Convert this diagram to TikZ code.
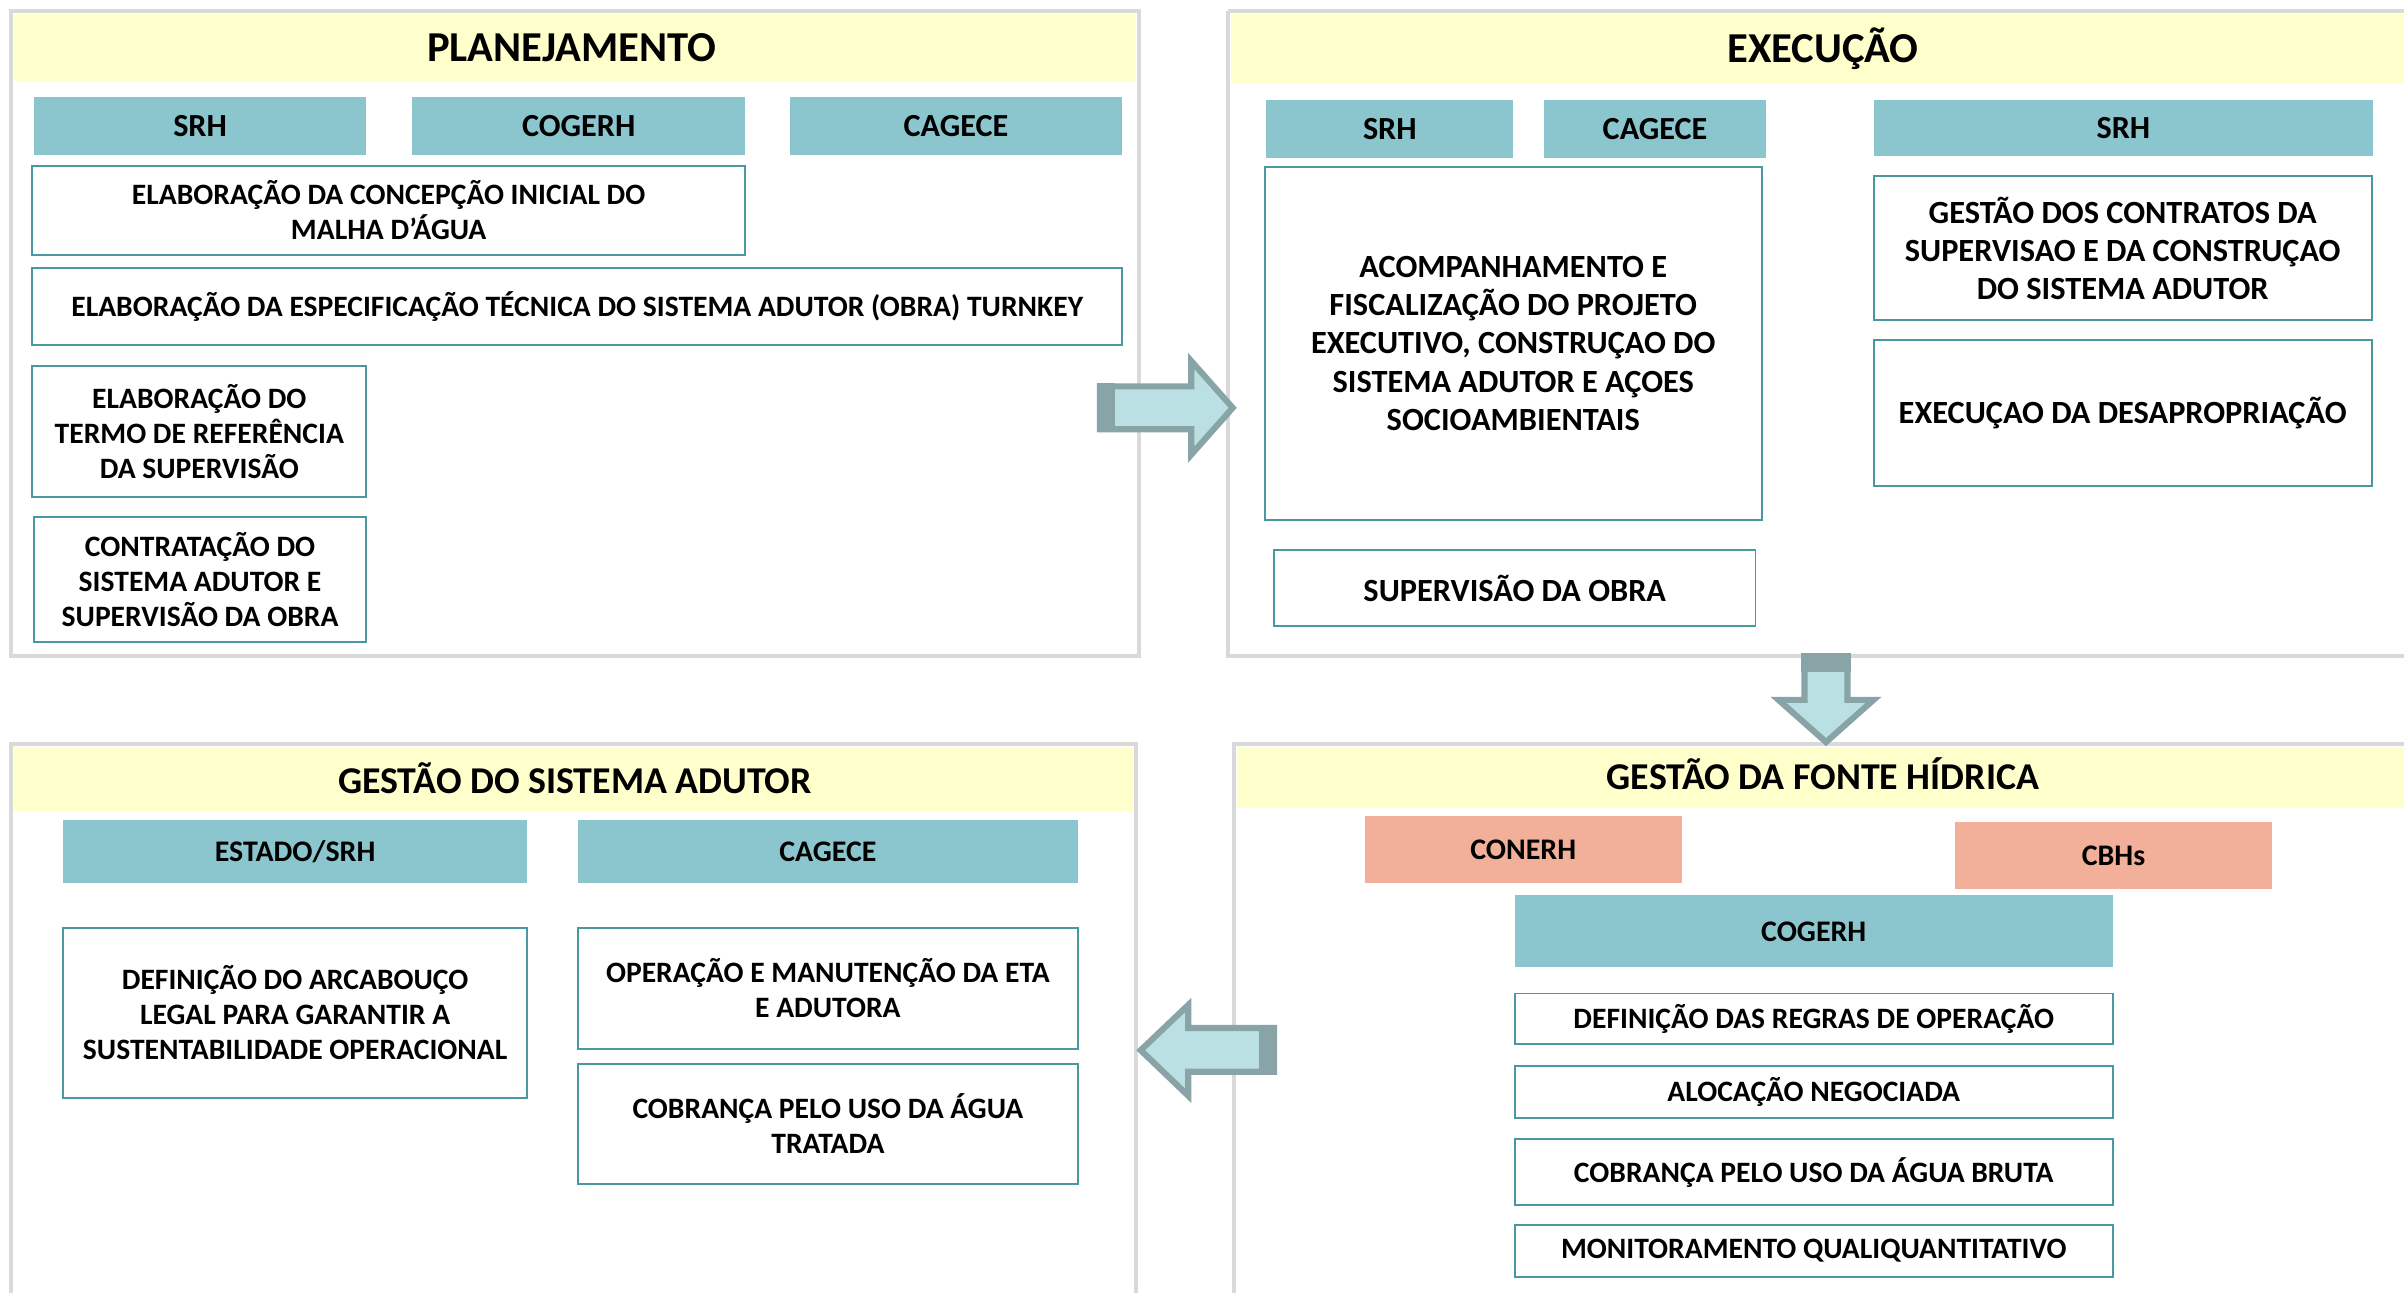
\documentclass[tikz,border=0pt]{standalone}
\usepackage{fontspec}
\setmainfont{Carlito}
\definecolor{panelgray}{HTML}{D9D9D9}
\definecolor{hdryellow}{HTML}{FFFFCC}
\definecolor{orgteal}{HTML}{8BC6CE}
\definecolor{orgsalmon}{HTML}{F2AF99}
\definecolor{taskline}{HTML}{4A989F}
\definecolor{arrowfill}{HTML}{BAE0E3}
\definecolor{arrowline}{HTML}{88A4A6}
\begin{document}
\begin{tikzpicture}[x=1pt,y=-1pt,
  panel/.style={draw=panelgray,line width=2.5pt},
  hdrband/.style={fill=hdryellow},
  ttl/.style={font=\fontsize{27.8}{32}\selectfont\bfseries,inner sep=0pt},
  ttlsmall/.style={font=\fontsize{24.7}{29}\selectfont\bfseries,inner sep=0pt},
  org/.style={fill=orgteal,font=\fontsize{21}{25}\selectfont\bfseries,inner sep=0pt},
  orgsm/.style={fill=orgteal,font=\fontsize{19.5}{24}\selectfont\bfseries,inner sep=0pt},
  orgb/.style={fill=orgsalmon,font=\fontsize{19.5}{24}\selectfont\bfseries,inner sep=0pt},
  task/.style={draw=taskline,line width=1.3pt,fill=white,align=center,inner sep=0pt,
    font=\fontsize{19.3}{23}\selectfont\bfseries},
  taskbig/.style={task,font=\fontsize{21.1}{25}\selectfont\bfseries},
  blockarrow/.style={fill=arrowfill,draw=arrowline,line width=4pt,line join=miter},
  arrowback/.style={fill=arrowline}]
\useasboundingbox (0,0) rectangle (1568,843);
% ---------- panels ----------
\draw[panel] (7,7) rectangle (743,428);
\fill[hdrband] (9,9) rectangle (741,53);
\draw[panel] (801,7) -- (801,428) -- (1580,428);
\draw[panel] (801,7) -- (1580,7);
\fill[hdrband] (803,9) rectangle (1568,55);
\draw[panel] (7,860) -- (7,485) -- (741,485) -- (741,860);
\fill[hdrband] (9,487) rectangle (739,529);
\draw[panel] (805,860) -- (805,485) -- (1580,485);
\fill[hdrband] (807,487) rectangle (1568,527);
% ---------- titles ----------
\node[ttl] (tplan) at (373,31) {PLANEJAMENTO};
\node[ttl] (texec) at (1189,32) {EXECUÇÃO};
\node[ttlsmall] (tgsa) at (375,507.5) {GESTÃO DO SISTEMA ADUTOR};
\node[ttlsmall] (tgfh) at (1189,504.5) {GESTÃO DA FONTE HÍDRICA};
% ---------- PLANEJAMENTO ----------
\node[org,minimum width=217,minimum height=38] (p1srh) at (130.5,82) {SRH};
\node[org,minimum width=217,minimum height=38] (p1cog) at (377.5,82) {COGERH};
\node[org,minimum width=217,minimum height=38] (p1cag) at (623.5,82) {CAGECE};
\node[task,minimum width=465,minimum height=58] (p1t1) at (253.5,137)
  {ELABORAÇÃO DA CONCEPÇÃO INICIAL DO\\MALHA D’ÁGUA};
\node[task,minimum width=711,minimum height=50] (p1t2) at (376.5,200)
  {ELABORAÇÃO DA ESPECIFICAÇÃO TÉCNICA DO SISTEMA ADUTOR (OBRA) TURNKEY};
\node[task,minimum width=218,minimum height=85] (p1t3) at (130,281.5)
  {ELABORAÇÃO DO\\TERMO DE REFERÊNCIA\\DA SUPERVISÃO};
\node[task,minimum width=217,minimum height=82] (p1t4) at (130.5,378)
  {CONTRATAÇÃO DO\\SISTEMA ADUTOR E\\SUPERVISÃO DA OBRA};
% ---------- EXECUÇÃO ----------
\node[org,minimum width=161,minimum height=38] (p2srh) at (906.5,84) {SRH};
\node[org,minimum width=145,minimum height=38] (p2cag) at (1079.5,84) {CAGECE};
\node[org,minimum width=326,minimum height=37] (p2srhb) at (1385,83.5) {SRH};
\node[taskbig,minimum width=324,minimum height=230] (p2acomp) at (987,224)
  {ACOMPANHAMENTO E\\FISCALIZAÇÃO DO PROJETO\\EXECUTIVO, CONSTRUÇAO DO\\SISTEMA ADUTOR E AÇOES\\SOCIOAMBIENTAIS};
\node[taskbig,minimum width=314,minimum height=49] (p2sup) at (988,383.5) {SUPERVISÃO DA OBRA};
\node[taskbig,minimum width=325,minimum height=94] (p2gest) at (1384.5,162)
  {GESTÃO DOS CONTRATOS DA\\SUPERVISAO E DA CONSTRUÇAO\\DO SISTEMA ADUTOR};
\node[taskbig,minimum width=325,minimum height=95] (p2desap) at (1384.5,269.5)
  {EXECUÇAO DA DESAPROPRIAÇÃO};
% ---------- GESTÃO DO SISTEMA ADUTOR ----------
\node[orgsm,minimum width=303,minimum height=41] (p3est) at (192.5,555.5) {ESTADO/SRH};
\node[orgsm,minimum width=326,minimum height=41] (p3cag) at (540,555.5) {CAGECE};
\node[task,minimum width=303,minimum height=111] (p3def) at (192.5,660.5)
  {DEFINIÇÃO DO ARCABOUÇO\\LEGAL PARA GARANTIR A\\SUSTENTABILIDADE OPERACIONAL};
\node[task,minimum width=326,minimum height=79] (p3op) at (540,644.5)
  {OPERAÇÃO E MANUTENÇÃO DA ETA\\E ADUTORA};
\node[task,minimum width=326,minimum height=78] (p3cob) at (540,733)
  {COBRANÇA PELO USO DA ÁGUA\\TRATADA};
% ---------- GESTÃO DA FONTE HÍDRICA ----------
\node[orgb,minimum width=207,minimum height=44] (p4conerh) at (993.5,554) {CONERH};
\node[orgb,minimum width=207,minimum height=44] (p4cbh) at (1378.5,558) {CBHs};
\node[orgsm,minimum width=390,minimum height=47] (p4cog) at (1183,607.5) {COGERH};
\node[task,minimum width=390,minimum height=33] (p4r1) at (1183,664.5) {DEFINIÇÃO DAS REGRAS DE OPERAÇÃO};
\node[task,minimum width=390,minimum height=34] (p4r2) at (1183,712) {ALOCAÇÃO NEGOCIADA};
\node[task,minimum width=390,minimum height=43] (p4r3) at (1183,764.5) {COBRANÇA PELO USO DA ÁGUA BRUTA};
\node[task,minimum width=390,minimum height=34] (p4r4) at (1183,816) {MONITORAMENTO QUALIQUANTITATIVO};
% ---------- block arrows ----------
\draw[blockarrow] (717.5,252) -- (777,252) -- (777,235.5) -- (804,266) -- (777,296.5) -- (777,280) -- (717.5,280) -- cycle;
\fill[arrowback] (715.5,250) rectangle (727,282);
\draw[blockarrow] (1177,428) -- (1177,456.5) -- (1160,456.5) -- (1191,484) -- (1222,456.5) -- (1205,456.5) -- (1205,428) -- cycle;
\fill[arrowback] (1175,426) rectangle (1207,438);
\draw[blockarrow] (831,670.5) -- (775,670.5) -- (775,655.5) -- (744,685) -- (775,714.7) -- (775,699) -- (831,699) -- cycle;
\fill[arrowback] (821,668.5) rectangle (833,701);
\end{tikzpicture}
\end{document}
